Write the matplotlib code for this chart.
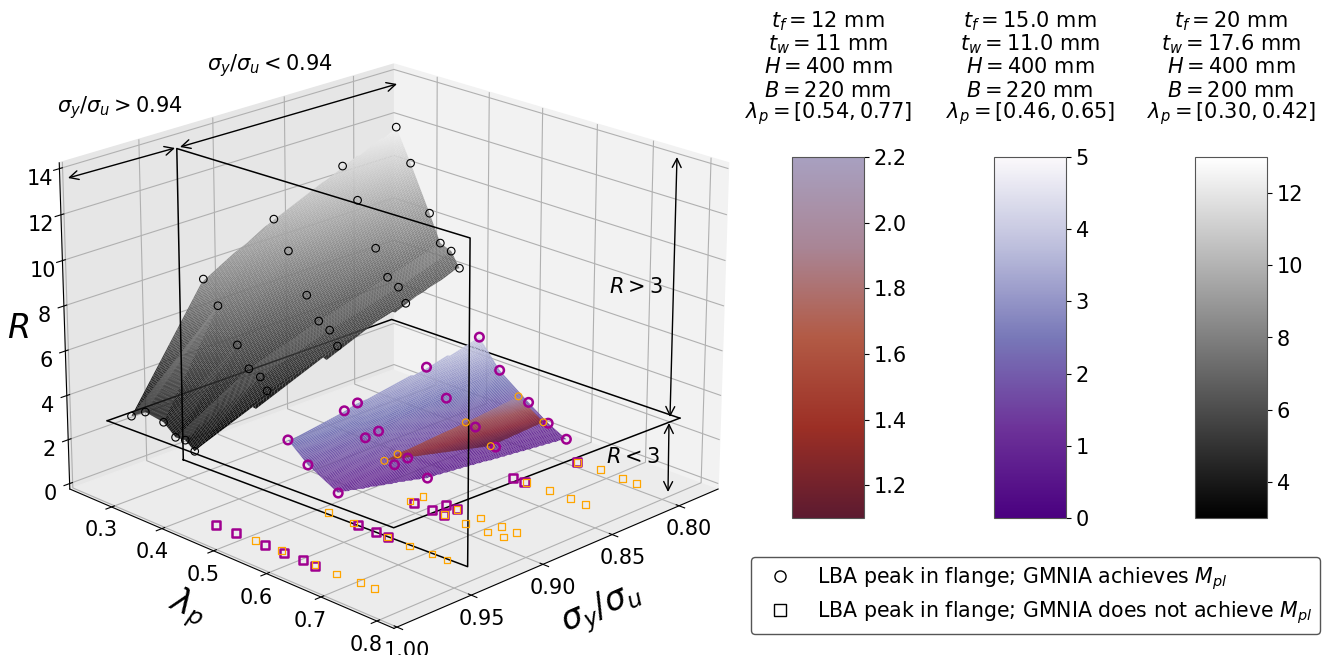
import numpy as np
import matplotlib
matplotlib.use('Agg')
import matplotlib.pyplot as plt
import matplotlib.tri as mtri
from matplotlib.cm import ScalarMappable
from matplotlib.colors import Normalize, LinearSegmentedColormap
from matplotlib.lines import Line2D

W, H = 1327, 655
plt.rcParams['font.size'] = 15

# values, one row per sigma_y/sigma_u
black_sigma = [0.800, 0.838, 0.887, 0.935, 0.985]
black_lam = [[0.299, 0.327, 0.364, 0.385, 0.406, 0.422],
             [0.296, 0.325, 0.360, 0.383, 0.404, 0.418],
             [0.296, 0.324, 0.359, 0.382, 0.403, 0.418],
             [0.293, 0.321, 0.358, 0.380, 0.402, 0.415],
             [0.293, 0.321, 0.357, 0.380, 0.399, 0.417]]
black_R = [[12.51, 11.07, 9.06, 7.85, 7.65, 6.99],
           [11.46, 10.13, 8.22, 7.08, 6.80, 6.18],
           [10.06, 8.85, 7.14, 6.16, 5.93, 5.34],
           [8.37, 7.41, 5.97, 5.09, 4.92, 4.41],
           [3.37, 3.81, 3.68, 3.22, 3.27, 2.94]]

purple_sigma = [0.800]*5 + [0.838]*4 + [0.887]*4 + [0.896]*3 + [0.935]*3
purple_lam = [0.461, 0.500, 0.555, 0.592, 0.626,
              0.458, 0.496, 0.551, 0.589,
              0.456, 0.496, 0.551, 0.588,
              0.455, 0.495, 0.550,
              0.454, 0.492, 0.549]
purple_R = [4.13, 2.93, 1.93, 1.30, 0.87,
            3.59, 2.50, 1.67, 1.10,
            3.09, 2.17, 1.46, 0.90,
            2.94, 2.08, 1.37,
            2.56, 1.79, 1.07]
purple_sq_sigma = [0.985, 0.984, 0.984, 0.984, 0.983, 0.984,
                   0.935, 0.935, 0.935, 0.896, 0.896, 0.896,
                   0.887, 0.886, 0.838, 0.838, 0.800]
purple_sq_lam = [0.455, 0.492, 0.547, 0.583, 0.615, 0.640,
                 0.586, 0.619, 0.641, 0.587, 0.620, 0.643,
                 0.622, 0.641, 0.622, 0.643, 0.647]

orange_sigma = [0.800, 0.800, 0.838, 0.838, 0.887, 0.896]
orange_lam = [0.536, 0.583, 0.533, 0.580, 0.532, 0.531]
orange_R = [2.04, 1.26, 1.72, 1.06, 1.46, 1.37]
orange_sq_sigma = [0.984, 0.983, 0.983, 0.983, 0.982, 0.982,
                   0.935, 0.935, 0.935, 0.935, 0.934, 0.934,
                   0.896, 0.896, 0.896, 0.896, 0.895,
                   0.887, 0.887, 0.886, 0.886, 0.886,
                   0.838, 0.837, 0.837, 0.837,
                   0.800, 0.799, 0.799, 0.799]
orange_sq_lam = [0.528, 0.575, 0.637, 0.677, 0.717, 0.742,
                 0.530, 0.577, 0.641, 0.681, 0.719, 0.746,
                 0.579, 0.643, 0.682, 0.722, 0.747,
                 0.580, 0.643, 0.684, 0.722, 0.749,
                 0.646, 0.686, 0.725, 0.751,
                 0.647, 0.687, 0.727, 0.752]

titles = [
    ["$t_f = 12$ mm", "$t_w = 11$ mm", "$H = 400$ mm", "$B = 220$ mm", "$\\lambda_p = [0.54, 0.77]$"],
    ["$t_f = 15.0$ mm", "$t_w = 11.0$ mm", "$H = 400$ mm", "$B = 220$ mm", "$\\lambda_p = [0.46, 0.65]$"],
    ["$t_f = 20$ mm", "$t_w = 17.6$ mm", "$H = 400$ mm", "$B = 200$ mm", "$\\lambda_p = [0.30, 0.42]$"],
]

red_cmap = LinearSegmentedColormap.from_list('redpart', ['#5c1a30', '#9c2f25', '#b25a45', '#a98595', '#a8a0c0'])
pur_cmap = LinearSegmentedColormap.from_list('purpart', ['#4a0080', '#6d3399', '#7878b8', '#bcbedc', '#fbf9fb'])

XLIM = (0.77, 1.002)
YLIM = (0.215, 0.83)
ZLIM = (-0.25, 14.25)
MAGENTA = '#a00090'
ORANGE = 'orange'

fig = plt.figure(figsize=(W/100, H/100), dpi=100)
ax = fig.add_axes([-0.008, -0.069, 0.595, 1.105], projection='3d', computed_zorder=False)
ax.view_init(elev=21, azim=45)


def surface(lam, sigma, R, cmap, vmin, vmax, zorder):
    # shading mesh over the read points, linear on their triangulation like griddata
    lam, sigma, R = np.ravel(lam), np.ravel(sigma), np.ravel(R)
    interp = mtri.LinearTriInterpolator(mtri.Triangulation(lam, sigma), R)
    ll, ss = np.meshgrid(np.linspace(lam.min(), lam.max(), 100), np.linspace(sigma.min(), sigma.max(), 100))
    zz = np.ma.filled(interp(ll, ss), np.nan)
    ax.plot_surface(ss, ll, zz, rstride=1, cstride=1, cmap=cmap, vmin=vmin, vmax=vmax, zorder=zorder)


black_sig_grid = np.repeat(np.array(black_sigma)[:, None], 6, axis=1)

# back edges of the R plane sit behind the surfaces
ax.plot([1.0, 0.8, 0.796], [0.29, 0.29, 0.818], [3.5]*3, 'k', lw=1.1, zorder=2)
surface(black_lam, black_sig_grid, black_R, 'gray', 3, 13, 3)
surface(purple_lam, purple_sigma, purple_R, pur_cmap, 0, 5, 4)
surface(orange_lam, orange_sigma, orange_R, red_cmap, 1.1, 2.2, 5)
ax.plot([0.796, 0.992, 1.0], [0.818, 0.803, 0.29], [3.5]*3, 'k', lw=1.1, zorder=6)
ax.plot([0.95, 0.95, 0.942, 0.942, 0.95], [0.29, 0.29, 0.803, 0.803, 0.29],
        [0.5, 14.4, 14.4, 0.5, 0.5], 'k', lw=1.1, zorder=6)

ax.scatter(black_sig_grid.ravel(), np.ravel(black_lam), np.ravel(black_R), marker='o', s=30,
           facecolors='none', edgecolors='k', linewidths=0.8, depthshade=False, zorder=7)
ax.scatter(purple_sigma, purple_lam, purple_R, marker='o', s=38, facecolors='none',
           edgecolors=MAGENTA, linewidths=1.8, depthshade=False, zorder=7)
ax.scatter(purple_sq_sigma, purple_sq_lam, 0, marker='s', s=34, facecolors='none',
           edgecolors=MAGENTA, linewidths=1.8, depthshade=False, zorder=7)
ax.scatter(orange_sigma, orange_lam, orange_R, marker='o', s=24, facecolors='none',
           edgecolors=ORANGE, linewidths=0.9, depthshade=False, zorder=8)
ax.scatter(orange_sq_sigma, orange_sq_lam, 0, marker='s', s=24, facecolors='none',
           edgecolors=ORANGE, linewidths=0.9, depthshade=False, zorder=8)

ax.set_xlim(*XLIM)
ax.set_ylim(*YLIM)
ax.set_zlim(*ZLIM)
ax.set_xticks([0.80, 0.85, 0.90, 0.95, 1.00])
ax.set_xticklabels(['0.80', '0.85', '0.90', '0.95', '1.00'])
ax.set_yticks([0.3, 0.4, 0.5, 0.6, 0.7, 0.8])
ax.set_zticks([0, 2, 4, 6, 8, 10, 12, 14])
ax.tick_params(axis='x', labelsize=15, pad=0)
ax.tick_params(axis='y', labelsize=15, pad=0)
ax.tick_params(axis='z', labelsize=15, pad=0)
ax.set_xlabel('$\\sigma_y/\\sigma_u$', fontsize=24, labelpad=10)
ax.set_ylabel('$\\lambda_p$', fontsize=24, labelpad=9)
ax.set_zlabel('$R$', fontsize=24, labelpad=-2)
ax.xaxis.set_pane_color((0.95, 0.95, 0.95, 1.0))
ax.yaxis.set_pane_color((0.90, 0.90, 0.90, 1.0))
ax.zaxis.set_pane_color((0.925, 0.925, 0.925, 1.0))


def fpos(x, y):
    return x/W, 1-y/H


for a, b in [((68, 178), (175, 148)), ((180, 147), (397, 84)),
             ((677, 157), (670, 417)), ((669, 423), (668, 492))]:
    ax.annotate('', xy=fpos(*a), xytext=fpos(*b), xycoords='figure fraction', textcoords='figure fraction',
                arrowprops=dict(arrowstyle='<->', color='k', lw=1, mutation_scale=16, shrinkA=0, shrinkB=0))

for (x, y), s in [((270, 66), '$\\sigma_y/\\sigma_u < 0.94$'), ((120, 108), '$\\sigma_y/\\sigma_u > 0.94$'),
                  ((636, 287), '$R > 3$'), ((633, 457), '$R < 3$')]:
    fig.text(*fpos(x, y), s, ha='center', va='center', fontsize=15)


def add_cbar(x0, cmap, vmin, vmax, ticks):
    cax = fig.add_axes([x0/W, 1-518/H, 72/W, 361/H])
    cb = fig.colorbar(ScalarMappable(Normalize(vmin, vmax), cmap), cax=cax, ticks=ticks)
    cb.ax.tick_params(labelsize=15)
    cb.outline.set_edgecolor('#555555')


add_cbar(792, red_cmap, 1.1, 2.2, [1.2, 1.4, 1.6, 1.8, 2.0, 2.2])
add_cbar(994, pur_cmap, 0, 5, [0, 1, 2, 3, 4, 5])
add_cbar(1195, 'gray', 3, 13, [4, 6, 8, 10, 12])

for xc, lines in zip([828, 1030, 1231], titles):
    for yb, t in zip([27, 50, 73, 97, 118], lines):
        fig.text(*fpos(xc, yb), t, ha='center', va='baseline', fontsize=15)

handles = [Line2D([], [], marker='o', ls='', mfc='none', mec='k', ms=8),
           Line2D([], [], marker='s', ls='', mfc='none', mec='k', ms=8)]
fig.legend(handles, ['LBA peak in flange; GMNIA achieves $M_{pl}$',
                     'LBA peak in flange; GMNIA does not achieve $M_{pl}$'],
           loc='lower left', bbox_to_anchor=(751/W, 1-634/H), fontsize=14.8, framealpha=1, edgecolor='#555555',
           borderaxespad=0, labelspacing=0.35)

fig.savefig('out.png', dpi=100)
